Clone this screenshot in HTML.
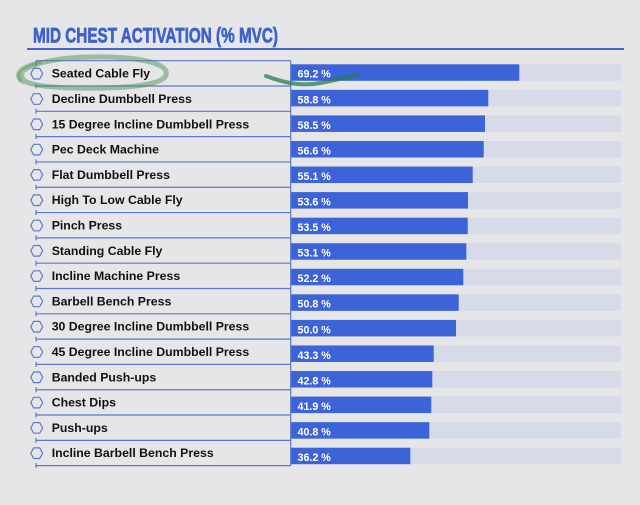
<!DOCTYPE html>
<html>
<head>
<meta charset="utf-8">
<style>
html,body{margin:0;padding:0;background:#e6e6e8;}
svg{display:block;}
.lbl{font-family:"Liberation Sans",sans-serif;font-weight:bold;font-size:12.3px;fill:#111;}
.val{font-family:"Liberation Sans",sans-serif;font-weight:bold;font-size:10.7px;fill:#fff;}
</style>
</head>
<body>
<svg width="640" height="505" viewBox="0 0 640 505" xmlns="http://www.w3.org/2000/svg">
<rect x="0" y="0" width="640" height="505" fill="#e6e6e8"/>
<text x="33" y="42.3" font-family="Liberation Sans, sans-serif" font-weight="bold" font-size="21" fill="#3d62cc" stroke="#3d62cc" stroke-width="0.7" textLength="245" lengthAdjust="spacingAndGlyphs">MID CHEST ACTIVATION (% MVC)</text>
<line x1="27" y1="49" x2="624" y2="49" stroke="#4466cc" stroke-width="2"/>

<!-- tracks and bars -->
<g fill="#d6dae9">
<rect x="291" y="64.3" width="330" height="16.5"/>
<rect x="291" y="89.86" width="330" height="16.5"/>
<rect x="291" y="115.42" width="330" height="16.5"/>
<rect x="291" y="140.98" width="330" height="16.5"/>
<rect x="291" y="166.54" width="330" height="16.5"/>
<rect x="291" y="192.1" width="330" height="16.5"/>
<rect x="291" y="217.66" width="330" height="16.5"/>
<rect x="291" y="243.22" width="330" height="16.5"/>
<rect x="291" y="268.78" width="330" height="16.5"/>
<rect x="291" y="294.34" width="330" height="16.5"/>
<rect x="291" y="319.9" width="330" height="16.5"/>
<rect x="291" y="345.46" width="330" height="16.5"/>
<rect x="291" y="371.02" width="330" height="16.5"/>
<rect x="291" y="396.58" width="330" height="16.5"/>
<rect x="291" y="422.14" width="330" height="16.5"/>
<rect x="291" y="447.7" width="330" height="16.5"/>
</g>
<g fill="#3d63d9">
<rect x="291" y="64.3" width="228.3" height="16.5"/>
<rect x="291" y="89.86" width="197.3" height="16.5"/>
<rect x="291" y="115.42" width="194" height="16.5"/>
<rect x="291" y="140.98" width="192.7" height="16.5"/>
<rect x="291" y="166.54" width="181.7" height="16.5"/>
<rect x="291" y="192.1" width="177" height="16.5"/>
<rect x="291" y="217.66" width="176.7" height="16.5"/>
<rect x="291" y="243.22" width="175.3" height="16.5"/>
<rect x="291" y="268.78" width="172.3" height="16.5"/>
<rect x="291" y="294.34" width="167.7" height="16.5"/>
<rect x="291" y="319.9" width="165" height="16.5"/>
<rect x="291" y="345.46" width="142.7" height="16.5"/>
<rect x="291" y="371.02" width="141.3" height="16.5"/>
<rect x="291" y="396.58" width="140.3" height="16.5"/>
<rect x="291" y="422.14" width="138.3" height="16.5"/>
<rect x="291" y="447.7" width="119.3" height="16.5"/>
</g>
<g>
<text class="val" x="297.5" y="77.7">69.2 %</text>
<text class="val" x="297.5" y="103.26">58.8 %</text>
<text class="val" x="297.5" y="128.82">58.5 %</text>
<text class="val" x="297.5" y="154.38">56.6 %</text>
<text class="val" x="297.5" y="179.94">55.1 %</text>
<text class="val" x="297.5" y="205.5">53.6 %</text>
<text class="val" x="297.5" y="231.06">53.5 %</text>
<text class="val" x="297.5" y="256.62">53.1 %</text>
<text class="val" x="297.5" y="282.18">52.2 %</text>
<text class="val" x="297.5" y="307.74">50.8 %</text>
<text class="val" x="297.5" y="333.3">50.0 %</text>
<text class="val" x="297.5" y="358.86">43.3 %</text>
<text class="val" x="297.5" y="384.42">42.8 %</text>
<text class="val" x="297.5" y="409.98">41.9 %</text>
<text class="val" x="297.5" y="435.54">40.8 %</text>
<text class="val" x="297.5" y="461.1">36.2 %</text>
</g>

<!-- table lines -->
<g stroke="#5b77c9" stroke-width="1.2" fill="none">
<line x1="36" y1="60.7" x2="290.7" y2="60.7"/>
<line x1="36" y1="60.7" x2="36" y2="66.5"/>
<line x1="290.7" y1="60.7" x2="290.7" y2="465.7"/>
<line x1="36" y1="86" x2="290.7" y2="86"/>
<line x1="36" y1="111.31" x2="290.7" y2="111.31"/>
<line x1="36" y1="136.62" x2="290.7" y2="136.62"/>
<line x1="36" y1="161.93" x2="290.7" y2="161.93"/>
<line x1="36" y1="187.24" x2="290.7" y2="187.24"/>
<line x1="36" y1="212.55" x2="290.7" y2="212.55"/>
<line x1="36" y1="237.86" x2="290.7" y2="237.86"/>
<line x1="36" y1="263.17" x2="290.7" y2="263.17"/>
<line x1="36" y1="288.48" x2="290.7" y2="288.48"/>
<line x1="36" y1="313.79" x2="290.7" y2="313.79"/>
<line x1="36" y1="339.1" x2="290.7" y2="339.1"/>
<line x1="36" y1="364.41" x2="290.7" y2="364.41"/>
<line x1="36" y1="389.72" x2="290.7" y2="389.72"/>
<line x1="36" y1="415.03" x2="290.7" y2="415.03"/>
<line x1="36" y1="440.34" x2="290.7" y2="440.34"/>
<line x1="36" y1="465.65" x2="290.7" y2="465.65"/>
<line x1="36" y1="83.5" x2="36" y2="88.5"/>
<line x1="36" y1="108.8" x2="36" y2="113.8"/>
<line x1="36" y1="134.1" x2="36" y2="139.1"/>
<line x1="36" y1="159.4" x2="36" y2="164.4"/>
<line x1="36" y1="184.7" x2="36" y2="189.7"/>
<line x1="36" y1="210" x2="36" y2="215"/>
<line x1="36" y1="235.3" x2="36" y2="240.3"/>
<line x1="36" y1="260.7" x2="36" y2="265.7"/>
<line x1="36" y1="286" x2="36" y2="291"/>
<line x1="36" y1="311.3" x2="36" y2="316.3"/>
<line x1="36" y1="336.6" x2="36" y2="341.6"/>
<line x1="36" y1="361.9" x2="36" y2="366.9"/>
<line x1="36" y1="387.2" x2="36" y2="392.2"/>
<line x1="36" y1="412.5" x2="36" y2="417.5"/>
<line x1="36" y1="437.8" x2="36" y2="442.8"/>
<line x1="36" y1="463.1" x2="36" y2="468.1"/>
</g>

<!-- hexagons -->
<g stroke="#5b7bd0" stroke-width="1.2" fill="none">
<polygon points="30.7,73.7 33.7,68.4 39.7,68.4 42.7,73.7 39.7,79 33.7,79"/>
<polygon points="30.7,99 33.7,93.7 39.7,93.7 42.7,99 39.7,104.3 33.7,104.3"/>
<polygon points="30.7,124.3 33.7,119 39.7,119 42.7,124.3 39.7,129.6 33.7,129.6"/>
<polygon points="30.7,149.6 33.7,144.3 39.7,144.3 42.7,149.6 39.7,154.9 33.7,154.9"/>
<polygon points="30.7,174.9 33.7,169.6 39.7,169.6 42.7,174.9 39.7,180.2 33.7,180.2"/>
<polygon points="30.7,200.2 33.7,194.9 39.7,194.9 42.7,200.2 39.7,205.5 33.7,205.5"/>
<polygon points="30.7,225.5 33.7,220.2 39.7,220.2 42.7,225.5 39.7,230.8 33.7,230.8"/>
<polygon points="30.7,250.8 33.7,245.5 39.7,245.5 42.7,250.8 39.7,256.1 33.7,256.1"/>
<polygon points="30.7,276.1 33.7,270.8 39.7,270.8 42.7,276.1 39.7,281.4 33.7,281.4"/>
<polygon points="30.7,301.4 33.7,296.1 39.7,296.1 42.7,301.4 39.7,306.7 33.7,306.7"/>
<polygon points="30.7,326.7 33.7,321.4 39.7,321.4 42.7,326.7 39.7,332 33.7,332"/>
<polygon points="30.7,352 33.7,346.7 39.7,346.7 42.7,352 39.7,357.3 33.7,357.3"/>
<polygon points="30.7,377.3 33.7,372 39.7,372 42.7,377.3 39.7,382.6 33.7,382.6"/>
<polygon points="30.7,402.6 33.7,397.3 39.7,397.3 42.7,402.6 39.7,407.9 33.7,407.9"/>
<polygon points="30.7,427.9 33.7,422.6 39.7,422.6 42.7,427.9 39.7,433.2 33.7,433.2"/>
<polygon points="30.7,453.2 33.7,447.9 39.7,447.9 42.7,453.2 39.7,458.5 33.7,458.5"/>
</g>

<!-- labels -->
<text class="lbl" x="51.7" y="77.7">Seated Cable Fly</text>
<text class="lbl" x="51.7" y="103">Decline Dumbbell Press</text>
<text class="lbl" x="51.7" y="128.3">15 Degree Incline Dumbbell Press</text>
<text class="lbl" x="51.7" y="153.6">Pec Deck Machine</text>
<text class="lbl" x="51.7" y="178.9">Flat Dumbbell Press</text>
<text class="lbl" x="51.7" y="204.2">High To Low Cable Fly</text>
<text class="lbl" x="51.7" y="229.5">Pinch Press</text>
<text class="lbl" x="51.7" y="254.8">Standing Cable Fly</text>
<text class="lbl" x="51.7" y="280.1">Incline Machine Press</text>
<text class="lbl" x="51.7" y="305.4">Barbell Bench Press</text>
<text class="lbl" x="51.7" y="330.7">30 Degree Incline Dumbbell Press</text>
<text class="lbl" x="51.7" y="356">45 Degree Incline Dumbbell Press</text>
<text class="lbl" x="51.7" y="381.3">Banded Push-ups</text>
<text class="lbl" x="51.7" y="406.6">Chest Dips</text>
<text class="lbl" x="51.7" y="431.9">Push-ups</text>
<text class="lbl" x="51.7" y="457.2">Incline Barbell Bench Press</text>

<!-- green annotation -->
<path d="M 24 82 C 8 72, 38 58, 90 57 C 132 56, 170 62, 166 75 C 163 86, 120 89, 72 88 C 42 87, 18 84, 22 74" stroke="rgba(80,145,90,0.5)" stroke-width="5" fill="none" stroke-linecap="round"/>
<path d="M 20 80 C 14 72, 22 66, 40 62" stroke="rgba(80,145,90,0.4)" stroke-width="4" fill="none" stroke-linecap="round"/>
<path d="M 266 76 C 282 82, 300 87, 320 83 C 338 80, 350 76, 358 75" stroke="rgba(35,125,80,0.75)" stroke-width="4" fill="none" stroke-linecap="round"/>
</svg>
</body>
</html>
